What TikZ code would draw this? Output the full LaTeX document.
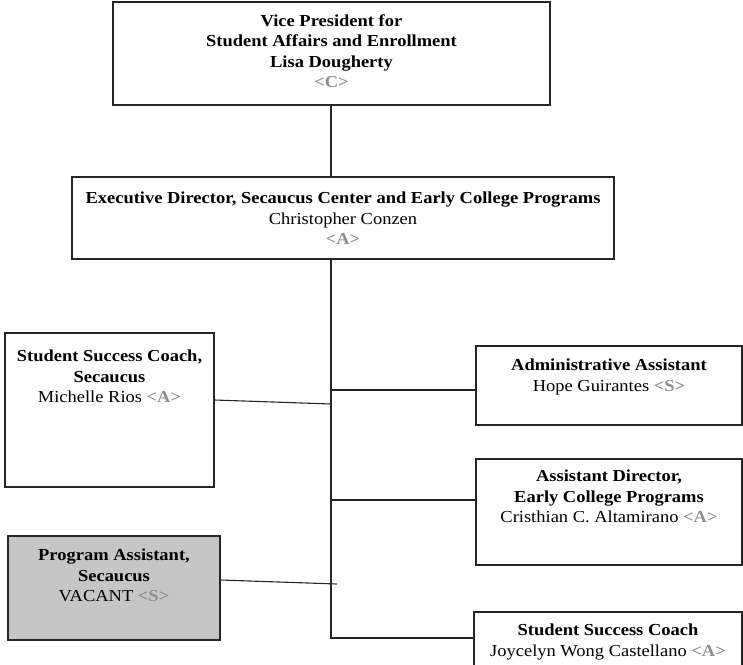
\documentclass[tikz,border=0pt]{standalone}
\usepackage{fontspec}
\setmainfont[FakeStretch=1.1]{Liberation Serif}
\usetikzlibrary{calc}
\definecolor{tagcol}{HTML}{8E8E8E}
\definecolor{vacant}{HTML}{C6C6C6}
\newcommand{\tg}[1]{{\color{tagcol}\textbf{#1}}}
\tikzset{
  orgbox/.style={draw=black!85, line width=1.2pt, inner sep=0pt},
  orgtext/.style={anchor=north, align=center, inner sep=0pt,
    font=\fontsize{16.8}{20.5}\selectfont},
  link/.style={draw=black!85, line width=1.1pt}
}
\begin{document}
\begin{tikzpicture}[x=1pt,y=-1pt]
\useasboundingbox (0,0) rectangle (743,664);

% boxes
\node[orgbox, minimum width=437, minimum height=103] (vp) at (331.5,53.5) {};
\node[orgbox, minimum width=542, minimum height=82] (ed) at (343,218) {};
\node[orgbox, minimum width=209, minimum height=154] (mr) at (109.5,410) {};
\node[orgbox, fill=vacant, minimum width=212, minimum height=104] (pa) at (114,588) {};
\node[orgbox, minimum width=266, minimum height=79] (hg) at (609,385.5) {};
\node[orgbox, minimum width=266, minimum height=106] (ca) at (609,512) {};
\node[orgbox, minimum width=268, minimum height=54] (jw) at (608,639) {};

% texts
\node[orgtext] (vpt) at (331.5,14) {\textbf{Vice President for}\\\textbf{Student Affairs and Enrollment}\\\textbf{Lisa Dougherty}\\\tg{<C>}};
\node[orgtext] (edt) at (343,192) {\textbf{Executive Director, Secaucus Center and Early College Programs}\\Christopher Conzen\\\tg{<A>}};
\node[orgtext] (mrt) at (109.5,350) {\textbf{Student Success Coach,}\\\textbf{Secaucus}\\Michelle Rios \tg{<A>}};
\node[orgtext] (pat) at (114,549) {\textbf{Program Assistant,}\\\textbf{Secaucus}\\VACANT \tg{<S>}};
\node[orgtext] (hgt) at (609,359) {\textbf{Administrative Assistant}\\Hope Guirantes \tg{<S>}};
\node[orgtext] (cat) at (609,470) {\textbf{Assistant Director,}\\\textbf{Early College Programs}\\Cristhian C. Altamirano \tg{<A>}};
\node[orgtext] (jwt) at (608,624) {\textbf{Student Success Coach}\\Joycelyn Wong Castellano \tg{<A>}};

% trunk points
\coordinate (ttop) at (331,105);
\coordinate (tmr) at (331,404);
\coordinate (thg) at (331,390);
\coordinate (tca) at (331,500);
\coordinate (tpa) at (337,584);
\coordinate (tend) at (331,638);

% connectors
\draw[link] (ttop) -- (ttop |- ed.north);
\draw[link] (ttop |- ed.south) -- (tend) -- (jw.west |- tend);
\draw[link] ([yshift=10pt]mr.east) -- (tmr);
\draw[link] (thg) -- (hg.west |- thg);
\draw[link] (tca) -- (ca.west |- tca);
\draw[link] ([yshift=8pt]pa.east) -- (tpa);
\end{tikzpicture}
\end{document}
